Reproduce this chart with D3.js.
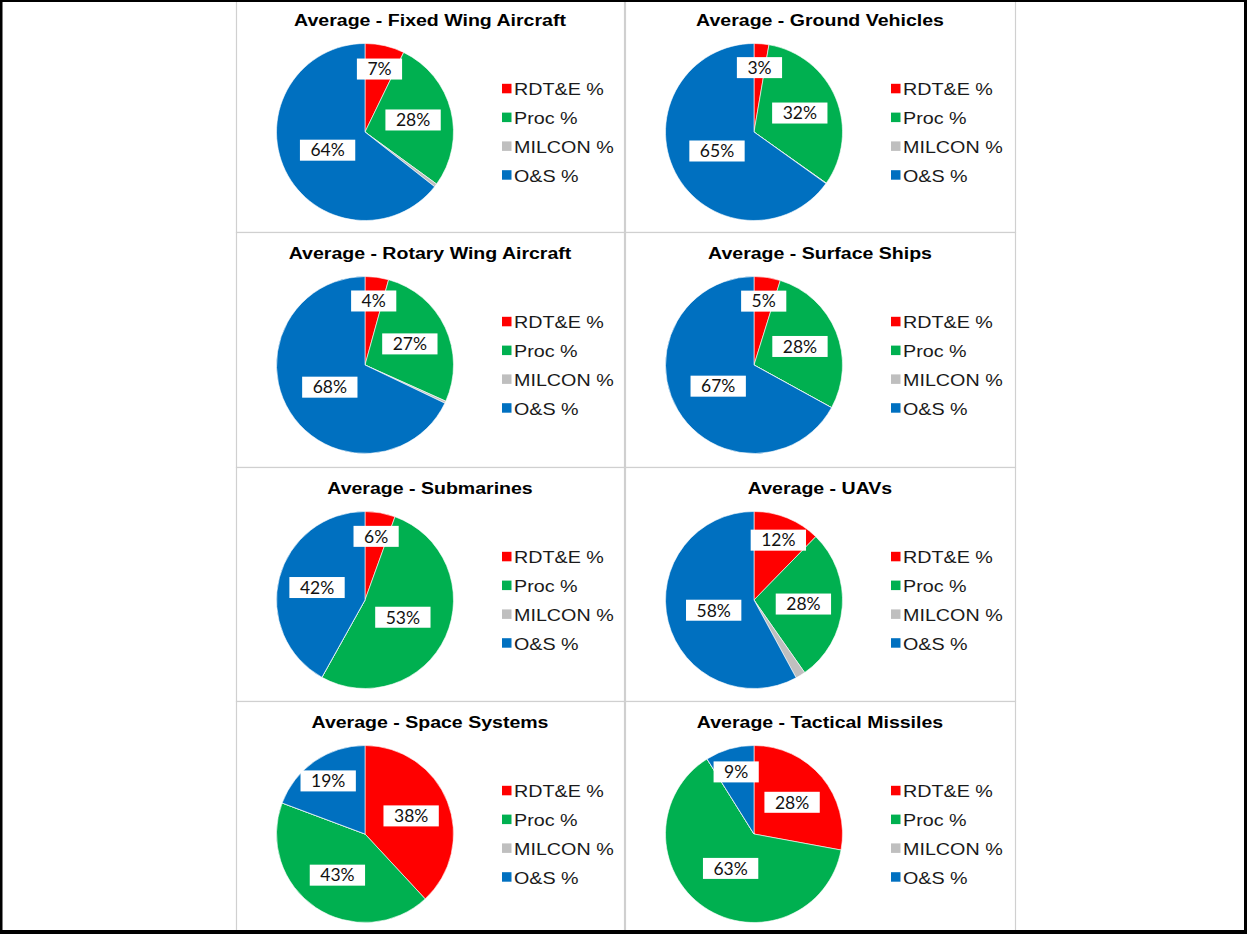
<!DOCTYPE html>
<html lang="en">
<head>
<meta charset="utf-8">
<script src="https://d3js.org/d3.v7.min.js"></script>
<style>
  body { margin: 0; background: #fff; }
  svg { display: block; }
</style>
</head>
<body>
<div id="chart"></div>
<script>
// chart data (percent of average program cost)
const titles = [
  "Average - Fixed Wing Aircraft", "Average - Ground Vehicles",
  "Average - Rotary Wing Aircraft", "Average - Surface Ships",
  "Average - Submarines", "Average - UAVs",
  "Average - Space Systems", "Average - Tactical Missiles"
];
const categories = ["RDT&E %", "Proc %", "MILCON %", "O&S %"];
const rdte   = [7.2, 2.7, 4.3, 4.8, 5.5, 12.3, 38.1, 27.9];
const proc   = [27.8, 32.1, 27.4, 28.2, 52.6, 28.0, 42.6, 63.2];
const milcon = [0.6, 0.1, 0.4, 0, 0, 1.8, 0, 0];
const os     = [64.4, 65.1, 67.9, 67.0, 41.9, 57.9, 19.3, 8.9];

const colors = ["#ff0000", "#00b050", "#bfbfbf", "#0070c0"];

const width = 1247, height = 934;

// panel grid
const colX = [236, 625], colW = [388, 390];
const rowY = [-1, 232, 467, 701], rowH = [233, 235, 234, 235];
const radius = 88.5;

const svg = d3.select("#chart").append("svg")
  .attr("width", width)
  .attr("height", height);

const color = d3.scaleOrdinal(categories, colors);

const pie = d3.pie().sort(null).value(d => d.value);
const arc = d3.arc().innerRadius(0).outerRadius(radius);

// label distance from centre, as a fraction of radius
function labelFactor(p) {
  if (p < 20) return 0.73;
  if (p < 50) return 0.56;
  return 0.47;
}

titles.forEach((title, i) => {
  const col = i % 2, row = Math.floor(i / 2);
  const px = colX[col], py = rowY[row], pw = colW[col], ph = rowH[row];
  const cx = px + 129, cy = py + 133;

  const g = svg.append("g");

  g.append("rect")
    .attr("x", px + 0.5).attr("y", py + 0.5)
    .attr("width", pw).attr("height", ph)
    .attr("fill", "#fff")
    .attr("stroke", "#d0d0d0")
    .attr("stroke-width", 1.2);

  g.append("text")
    .attr("transform", `translate(${px + pw / 2},${py + 27}) scale(1.15,1)`)
    .attr("text-anchor", "middle")
    .style("font", "bold 17px 'Liberation Sans', Arial, sans-serif")
    .attr("fill", "#000")
    .text(title);

  const values = [rdte[i], proc[i], milcon[i], os[i]];
  const data = categories.map((c, k) => ({ name: c, value: values[k] }));
  const arcs = pie(data);

  const pg = g.append("g").attr("transform", `translate(${cx},${cy})`);

  pg.selectAll("path")
    .data(arcs)
    .join("path")
    .attr("d", arc)
    .attr("fill", d => color(d.data.name))
    .attr("stroke", "#fff")
    .attr("stroke-width", 0.6);

  // data labels in white boxes
  const lab = pg.selectAll("g.lab")
    .data(arcs.filter(d => d.data.value >= 2.5))
    .join("g")
    .attr("class", "lab")
    .attr("transform", d => {
      const a = (d.startAngle + d.endAngle) / 2;
      const r = radius * labelFactor(d.data.value);
      return `translate(${Math.sin(a) * r},${-Math.cos(a) * r})`;
    });

  lab.append("rect").attr("fill", "#fff");
  lab.append("text")
    .attr("text-anchor", "middle")
    .attr("dy", "0.36em")
    .style("font", "17.5px Lato, 'Open Sans', sans-serif")
    .attr("fill", "#111")
    .text(d => Math.round(d.data.value) + "%");
  lab.each(function() {
    const t = d3.select(this).select("text").node().getComputedTextLength();
    d3.select(this).select("rect")
      .attr("x", -t / 2 - 10.5).attr("y", -10.5)
      .attr("width", t + 21).attr("height", 21);
  });

  // legend
  const leg = g.append("g")
    .selectAll("g")
    .data(categories)
    .join("g")
    .attr("transform", (d, k) => `translate(${cx + 137},${cy + (k - 1.5) * 28.8})`);

  leg.append("rect")
    .attr("x", 0).attr("y", -5)
    .attr("width", 9.5).attr("height", 9.5)
    .attr("fill", d => color(d));

  leg.append("text")
    .attr("transform", "translate(12,6.5) scale(1.16,1)")
    .style("font", "17px 'Liberation Sans', Arial, sans-serif")
    .attr("fill", "#1a1a1a")
    .text(d => d);
});

// outer black frame
svg.append("rect").attr("x", 0).attr("y", 0).attr("width", 2.5).attr("height", height).attr("fill", "#000");
svg.append("rect").attr("x", 0).attr("y", 0).attr("width", width).attr("height", 2).attr("fill", "#000");
svg.append("rect").attr("x", width - 3).attr("y", 0).attr("width", 3).attr("height", height).attr("fill", "#000");
svg.append("rect").attr("x", 0).attr("y", 930).attr("width", width).attr("height", 4).attr("fill", "#000");
</script>
</body>
</html>
